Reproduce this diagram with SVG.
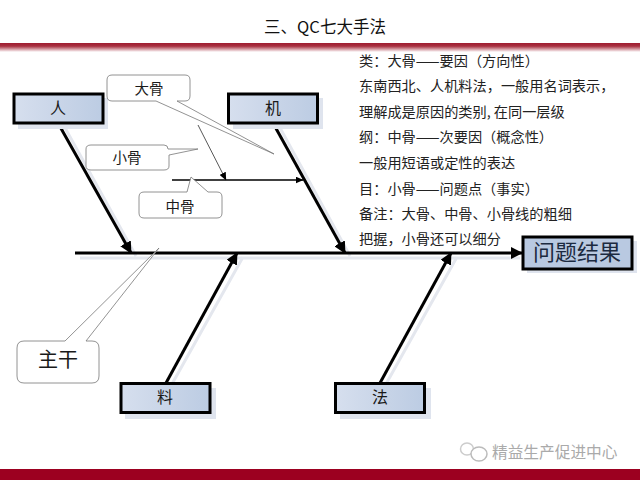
<svg xmlns="http://www.w3.org/2000/svg" width="640" height="480" viewBox="0 0 640 480">
<style>
text{font-family:"Noto Sans CJK SC","Liberation Sans",sans-serif;fill:#1a1a1a}
.box{stroke:#000;stroke-width:3;fill:url(#g)}
.sh{fill:#dfe4ee}
.lb{font-size:16px;text-anchor:middle}
.bone{stroke:#000;stroke-width:3;fill:none}
.bs{stroke:#e4e7ee;stroke-width:3;fill:none}
.call{fill:#fff;stroke:#777;stroke-width:.8}
.n{font-size:14.200px;fill:#222}
.c{font-size:14.500px;text-anchor:middle}
</style>
<defs>
<linearGradient id="g" x1="0" y1="0" x2="1" y2="0"><stop offset="0" stop-color="#d6dfee"/><stop offset=".5" stop-color="#c9d5e8"/><stop offset="1" stop-color="#bccce3"/></linearGradient>
<linearGradient id="r" x1="0" y1="0" x2="0" y2="1"><stop offset="0" stop-color="#a01c30"/><stop offset=".35" stop-color="#a83040"/><stop offset="1" stop-color="#fff"/></linearGradient>
<marker id="a" markerWidth="4" markerHeight="4" refX="3.700" refY="2" orient="auto"><path d="M0 0L4 2L0 4Z" fill="#000"/></marker>
<marker id="b" markerWidth="8" markerHeight="7" refX="7.500" refY="3.500" orient="auto" markerUnits="userSpaceOnUse"><path d="M0 0L8 3.500L0 7Z" fill="#000"/></marker>
</defs>
<rect width="640" height="480" fill="#fff"/>
<rect x="0" y="43" width="640" height="9" fill="url(#r)"/>
<rect x="0" y="469" width="640" height="11" fill="#9c0020"/>
<text x="325" y="33" font-size="16.500" text-anchor="middle" style="fill:#111">三、QC七大手法</text>
<g id="connectors">
<g class="bs"><path d="M80 258H520M64 126L136 256M279 126L350 256M172 384L243 257M386 384L457 257"/></g>
<path class="bone" d="M75 253H522" marker-end="url(#a)"/>
<path class="bone" d="M58 123L131 253" marker-end="url(#a)"/>
<path class="bone" d="M273 123L345 253" marker-end="url(#a)"/>
<path class="bone" d="M166 383L237 253" marker-end="url(#a)"/>
<path class="bone" d="M380 383L451 253" marker-end="url(#a)"/>
<path d="M172 180H303" stroke="#000" stroke-width="1.500" fill="none" marker-end="url(#b)"/>
<path d="M198 125L226 180" stroke="#444" stroke-width=".9" fill="none" marker-end="url(#b)"/>
</g>
<g id="node-ren"><rect class="sh" x="18" y="98" width="90" height="31"/><rect class="box" x="14" y="94" width="89" height="29"/><text class="lb" x="58" y="114">人</text></g>
<g id="node-ji"><rect class="sh" x="233" y="98" width="90" height="31"/><rect class="box" x="228.500" y="94" width="89" height="29"/><text class="lb" x="273" y="114">机</text></g>
<g id="node-liao"><rect class="sh" x="125" y="388" width="91" height="31"/><rect class="box" x="121" y="383.500" width="89" height="29"/><text class="lb" x="165" y="403">料</text></g>
<g id="node-fa"><rect class="sh" x="340" y="388" width="91" height="31"/><rect class="box" x="335.500" y="383.500" width="89" height="29"/><text class="lb" x="380" y="403">法</text></g>
<g id="node-result"><rect class="sh" x="527" y="241" width="110" height="32"/><rect x="523" y="237" width="109" height="32" fill="#b9c9e1" stroke="#000" stroke-width="3"/><text x="577" y="260" font-size="22" text-anchor="middle" style="fill:#1c2a40">问题结果</text></g>
<g id="callout-dagu"><path class="call" d="M112 75H185Q190 75 190 80V96Q190 101 185 101H177L274 154L156 101H112Q107 101 107 96V80Q107 75 112 75Z"/><text class="c" x="149" y="94">大骨</text></g>
<g id="callout-xiaogu"><path class="call" d="M91 145H164Q168 145 168 149L198 149L169 155V166Q169 170 164 170H91Q86 170 86 166V149Q86 145 91 145Z"/><text class="c" x="127" y="163">小骨</text></g>
<g id="callout-zhonggu"><path class="call" d="M144 192H187L191 177L208 192H217Q222 192 222 197V213Q222 218 217 218H144Q139 218 139 213V197Q139 192 144 192Z"/><text class="c" x="180" y="212">中骨</text></g>
<g id="callout-zhugan"><path class="call" d="M24 341H65L159 248L86 341H92Q99 341 99 348V376Q99 383 92 383H24Q17 383 17 376V348Q17 341 24 341Z"/><text x="58" y="367" font-size="20" text-anchor="middle">主干</text></g>
<g id="notes">
<text class="n" x="359" y="66">类：大骨——要因（方向性）</text>
<text class="n" x="359" y="91">东南西北、人机料法，一般用名词表示，</text>
<text class="n" x="359" y="117">理解成是原因的类别, 在同一层级</text>
<text class="n" x="359" y="142">纲：中骨——次要因（概念性）</text>
<text class="n" x="359" y="168">一般用短语或定性的表达</text>
<text class="n" x="359" y="194">目：小骨——问题点（事实）</text>
<text class="n" x="359" y="219">备注：大骨、中骨、小骨线的粗细</text>
<text class="n" x="359" y="244">把握，小骨还可以细分</text>
</g>
<g id="watermark">
<ellipse cx="467" cy="449" rx="6.500" ry="6" fill="none" stroke="#ccc" stroke-width="1.500"/>
<ellipse cx="479" cy="454" rx="8" ry="7" fill="#fff" stroke="#bbb" stroke-width="1.500"/>
<text x="492" y="458" font-size="15.700" style="fill:#aaa">精益生产促进中心</text>
</g>
</svg>
